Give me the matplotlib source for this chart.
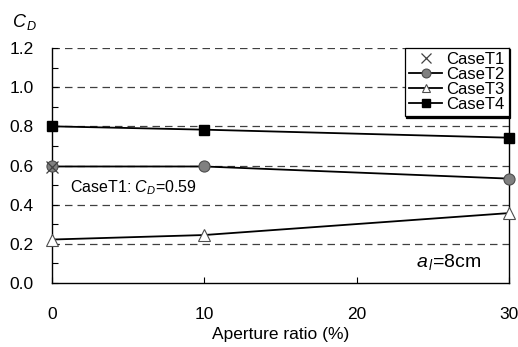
import numpy as np
import matplotlib.pyplot as plt
from matplotlib.ticker import MultipleLocator

plt.rcParams['font.family'] = ['Liberation Sans', 'DejaVu Sans']
plt.rcParams['mathtext.fontset'] = 'custom'
plt.rcParams['mathtext.it'] = 'Liberation Sans:italic'
plt.rcParams['mathtext.rm'] = 'Liberation Sans'

# aperture ratio (%)
x_t1 = [0]
cd_t1 = [0.59]
x_all = [0, 10, 30]
cd_t2 = [0.595, 0.595, 0.533]
cd_t3 = [0.222, 0.245, 0.357]
cd_t4 = [0.80, 0.783, 0.742]

fig = plt.figure(figsize=(5.18, 3.47), dpi=100)
ax = fig.add_axes([52/518, 1-283/347, 457/518, 235/347])

for yy in [0.2, 0.4, 0.6, 0.8, 1.0, 1.2]:
    ax.axhline(yy, color='0.25', lw=0.9, ls=(0, (6, 4)), zorder=1)

ax.plot(x_t1, cd_t1, ls='none', marker='x', ms=9, mew=0.9, color='0.25',
        label='CaseT1', zorder=4, clip_on=False)
ax.plot(x_all, cd_t2, '-o', color='black', lw=1.3, ms=8, mfc='0.5', mec='0.3',
        mew=0.8, label='CaseT2', zorder=3, clip_on=False)
ax.plot(x_all, cd_t3, '-^', color='black', lw=1.3, ms=8, mfc='white', mec='0.3',
        mew=0.8, label='CaseT3', zorder=3, clip_on=False)
ax.plot(x_all, cd_t4, '-s', color='black', lw=1.3, ms=7, mfc='black', mec='black',
        label='CaseT4', zorder=3, clip_on=False)

ax.set_xlim(0, 30)
ax.set_ylim(0, 1.2)
ax.set_xticks([0, 10, 20, 30])
ax.set_yticks(np.arange(0, 1.21, 0.2))
ax.yaxis.set_minor_locator(MultipleLocator(0.1))
ax.set_yticklabels(['%.1f' % v for v in np.arange(0, 1.21, 0.2)])
ax.tick_params(axis='both', direction='in', labelsize=12.5, length=4, width=0.8)
ax.tick_params(axis='x', pad=17)
ax.tick_params(axis='y', which='minor', direction='in', length=4, width=0.8)
ax.tick_params(axis='y', pad=13)

ax.spines['top'].set_visible(False)
for s in ['left', 'bottom', 'right']:
    ax.spines[s].set_linewidth(1.0)
    ax.spines[s].set_color('black')

ax.set_xlabel('Aperture ratio (%)', fontsize=12.5, labelpad=4)
fig.text(12/518, 1-22/347, r'$C_{\,D}$', fontsize=13, va='center', ha='left')

ax.text(1.15, 0.487, r'CaseT1: $C_D$=0.59', fontsize=11.5, va='center', ha='left')
ax.text(23.9, 0.108, r'$a_{\,l}$=8cm', fontsize=14, va='center', ha='left')

leg = ax.legend(loc='upper right', fontsize=12, frameon=True,
                shadow={'color': 'black', 'alpha': 1.0, 'ox': 1.0, 'oy': -1.0},
                fancybox=False, borderaxespad=0, handlelength=2.0,
                handletextpad=0.25, labelspacing=0.0, borderpad=0.25,
                markerscale=0.8)
leg.get_frame().set_edgecolor('black')
leg.get_frame().set_linewidth(0.9)
leg.set_zorder(5)

fig.savefig('out.png', dpi=100)
